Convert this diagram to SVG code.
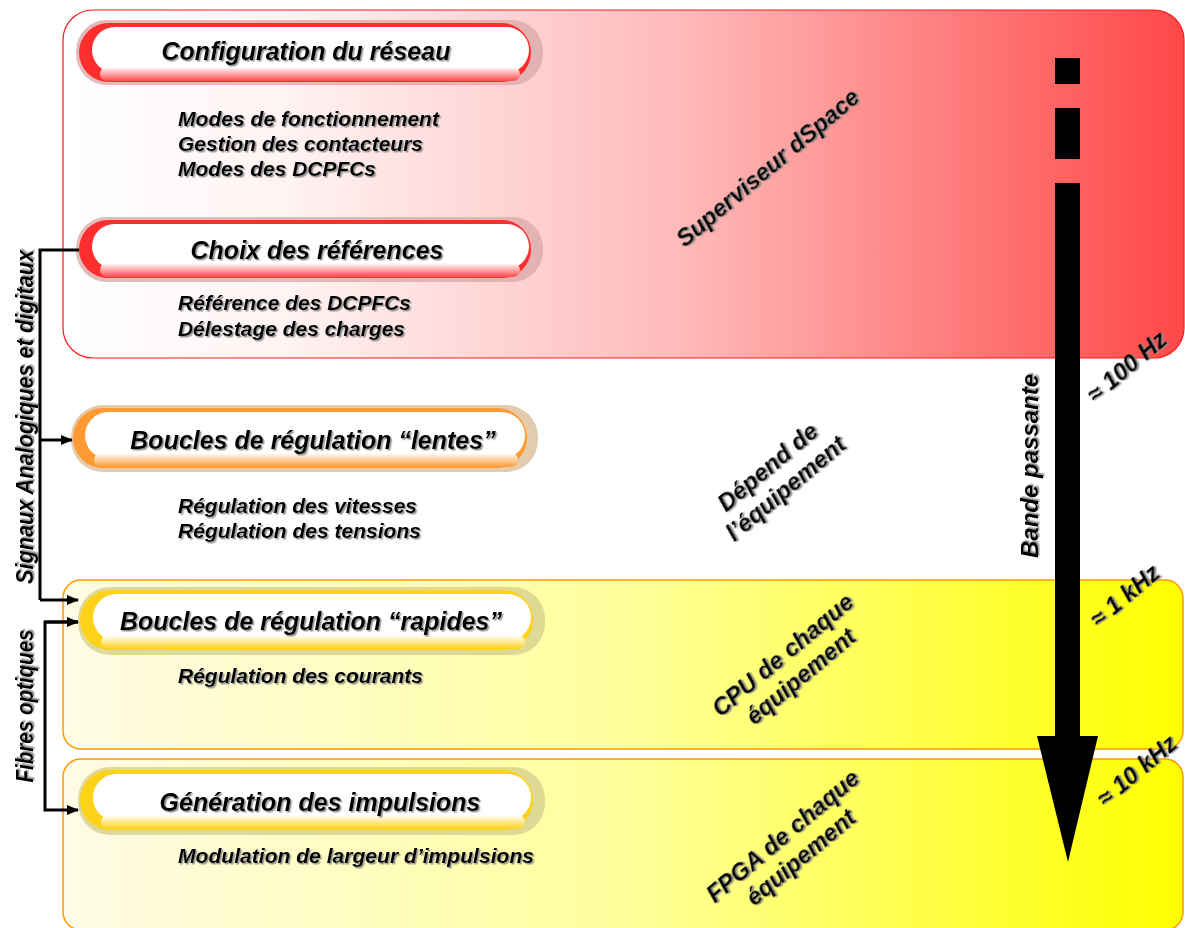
<svg xmlns="http://www.w3.org/2000/svg" width="1185" height="928" viewBox="0 0 1185 928">
<defs>
<linearGradient id="gRed" x1="0" y1="0" x2="1" y2="0">
<stop offset="0" stop-color="#ffffff"/>
<stop offset="0.2" stop-color="#fff3f3"/>
<stop offset="0.55" stop-color="#ffbaba"/>
<stop offset="1" stop-color="#ff4848"/>
</linearGradient>
<linearGradient id="gYel" x1="0" y1="0" x2="1" y2="0">
<stop offset="0" stop-color="#fffbe6"/>
<stop offset="0.5" stop-color="#ffff9c"/>
<stop offset="1" stop-color="#ffff00"/>
</linearGradient>
<linearGradient id="bRed" x1="0" y1="0" x2="0" y2="1">
<stop offset="0" stop-color="#ffffff"/>
<stop offset="1" stop-color="#ff4a4a"/>
</linearGradient>
<linearGradient id="bOra" x1="0" y1="0" x2="0" y2="1">
<stop offset="0" stop-color="#ffffff"/>
<stop offset="1" stop-color="#ff9a33"/>
</linearGradient>
<linearGradient id="bYel" x1="0" y1="0" x2="0" y2="1">
<stop offset="0" stop-color="#ffffff"/>
<stop offset="1" stop-color="#ffd21a"/>
</linearGradient>
<filter id="ts" x="-10%" y="-30%" width="120%" height="160%">
<feDropShadow dx="1.5" dy="1.5" stdDeviation="0.6" flood-color="#8a8a8a" flood-opacity="0.9"/>
</filter>
<marker id="arr" markerUnits="userSpaceOnUse" markerWidth="12" markerHeight="10" refX="11" refY="5" orient="auto">
<path d="M0,0 L12,5 L0,10 Z" fill="#000"/>
</marker>
<style>
text{font-family:"Liberation Sans",Arial,sans-serif;font-weight:bold;font-style:italic;fill:#000}
.h{font-size:25px;text-anchor:middle;filter:url(#ts)}
.s{font-size:20px;filter:url(#ts)}
.r{font-size:24px;text-anchor:middle;filter:url(#ts)}
.v{font-size:23px;text-anchor:middle;filter:url(#ts)}
.sh{opacity:0.8}
.inner{fill:#ffffff}
.conn{fill:none;stroke:#000;stroke-width:3}
</style>
</defs>

<g id="panels">
<rect id="panel-dspace" x="63" y="10" width="1121" height="348" rx="30" fill="url(#gRed)" stroke="#ff1a1a" stroke-width="1.2"/>
<rect id="panel-cpu" x="63" y="580" width="1120" height="169" rx="18" fill="url(#gYel)" stroke="#ff9900" stroke-width="1.5"/>
<rect id="panel-fpga" x="63" y="759" width="1120" height="171" rx="18" fill="url(#gYel)" stroke="#ff9900" stroke-width="1.5"/>
</g>

<g id="node-config">
<rect class="sh" x="76" y="20" width="467" height="65" rx="31" fill="#dcaaaa"/>
<rect x="79" y="23" width="452" height="59" rx="29.5" fill="#ff2e2e"/>
<rect class="inner" x="92" y="27" width="437" height="46" rx="23"/>
<rect x="100" y="67" width="420" height="14" rx="7" fill="url(#bRed)"/>
<text class="h" x="306" y="60">Configuration du réseau</text>
</g>
<g id="sub-config">
<text class="s" x="178" y="126" textLength="261" lengthAdjust="spacingAndGlyphs">Modes de fonctionnement</text>
<text class="s" x="178" y="151" textLength="245" lengthAdjust="spacingAndGlyphs">Gestion des contacteurs</text>
<text class="s" x="178" y="176" textLength="198" lengthAdjust="spacingAndGlyphs">Modes des DCPFCs</text>
</g>

<g id="node-choix">
<rect class="sh" x="76" y="217" width="467" height="65" rx="31" fill="#dcaaaa"/>
<rect x="79" y="220" width="452" height="58" rx="29" fill="#ff2e2e"/>
<rect class="inner" x="92" y="224" width="437" height="45" rx="22.5"/>
<rect x="100" y="263" width="420" height="14" rx="7" fill="url(#bRed)"/>
<text class="h" x="317" y="259">Choix des références</text>
</g>
<g id="sub-choix">
<text class="s" x="178" y="310" textLength="233" lengthAdjust="spacingAndGlyphs">Référence des DCPFCs</text>
<text class="s" x="178" y="336" textLength="227" lengthAdjust="spacingAndGlyphs">Délestage des charges</text>
</g>

<g id="node-lentes">
<rect class="sh" x="71" y="405" width="467" height="67" rx="32" fill="#dcbf98"/>
<rect x="73" y="408" width="454" height="60" rx="30" fill="#ff9a33"/>
<rect class="inner" x="85" y="412" width="440" height="47" rx="23.5"/>
<rect x="94" y="453" width="424" height="14" rx="7" fill="url(#bOra)"/>
<text class="h" x="313" y="449">Boucles de régulation “lentes”</text>
</g>
<g id="sub-lentes">
<text class="s" x="178" y="513" textLength="239" lengthAdjust="spacingAndGlyphs">Régulation des vitesses</text>
<text class="s" x="178" y="538" textLength="243" lengthAdjust="spacingAndGlyphs">Régulation des tensions</text>
</g>

<g id="node-rapides">
<rect class="sh" x="78" y="587" width="467" height="68" rx="32" fill="#d6d08e"/>
<rect x="80" y="590" width="453" height="60" rx="30" fill="#ffd21a"/>
<rect class="inner" x="93" y="594" width="438" height="47" rx="23.5"/>
<rect x="101" y="635" width="424" height="14" rx="7" fill="url(#bYel)"/>
<text class="h" x="311" y="630">Boucles de régulation “rapides”</text>
</g>
<g id="sub-rapides">
<text class="s" x="178" y="683" textLength="245" lengthAdjust="spacingAndGlyphs">Régulation des courants</text>
</g>

<g id="node-generation">
<rect class="sh" x="78" y="767" width="467" height="68" rx="32" fill="#d6d08e"/>
<rect x="80" y="770" width="453" height="60" rx="30" fill="#ffd21a"/>
<rect class="inner" x="93" y="774" width="438" height="47" rx="23.5"/>
<rect x="101" y="815" width="424" height="14" rx="7" fill="url(#bYel)"/>
<text class="h" x="320" y="811">Génération des impulsions</text>
</g>
<g id="sub-generation">
<text class="s" x="178" y="863" textLength="356" lengthAdjust="spacingAndGlyphs">Modulation de largeur d’impulsions</text>
</g>

<g id="labels">
<text class="r" transform="translate(773,174) rotate(-40)">Superviseur dSpace</text>
<g transform="translate(782,484) rotate(-40)">
<text class="r" x="0" y="-14">Dépend de</text>
<text class="r" x="0" y="14">l’équipement</text>
</g>
<g transform="translate(797,672) rotate(-40)">
<text class="r" x="0" y="-14">CPU de chaque</text>
<text class="r" x="0" y="14">équipement</text>
</g>
<g transform="translate(797,853) rotate(-40)">
<text class="r" x="0" y="-14">FPGA de chaque</text>
<text class="r" x="0" y="14">équipement</text>
</g>
<text class="v" transform="translate(1038,466) rotate(-90)" style="font-size:24px">Bande passante</text>
<text class="v" transform="translate(33,417) rotate(-90)" textLength="334" lengthAdjust="spacingAndGlyphs">Signaux Analogiques et digitaux</text>
<text class="v" transform="translate(33,706) rotate(-90)" textLength="153" lengthAdjust="spacingAndGlyphs">Fibres optiques</text>
<text class="r" transform="translate(1132,373) rotate(-40)">≈ 100 Hz</text>
<text class="r" transform="translate(1130,602) rotate(-40)">≈ 1 kHz</text>
<text class="r" transform="translate(1142,777) rotate(-40)">≈ 10 kHz</text>
</g>

<g id="bandwidth-arrow" fill="#000">
<rect x="1055" y="58" width="25" height="26"/>
<rect x="1055" y="108" width="25" height="51"/>
<rect x="1055" y="183" width="25" height="555"/>
<polygon points="1037,736 1098,736 1068,862"/>
</g>

<g id="connectors">
<path class="conn" d="M79,250 H40 V600"/>
<path class="conn" d="M40,440 H72" marker-end="url(#arr)"/>
<path class="conn" d="M40,600 H78" marker-end="url(#arr)"/>
<path class="conn" d="M78,622 H45 V810 H78" marker-end="url(#arr)"/>
<path class="conn" d="M45,622 H78" marker-end="url(#arr)"/>
</g>
</svg>
